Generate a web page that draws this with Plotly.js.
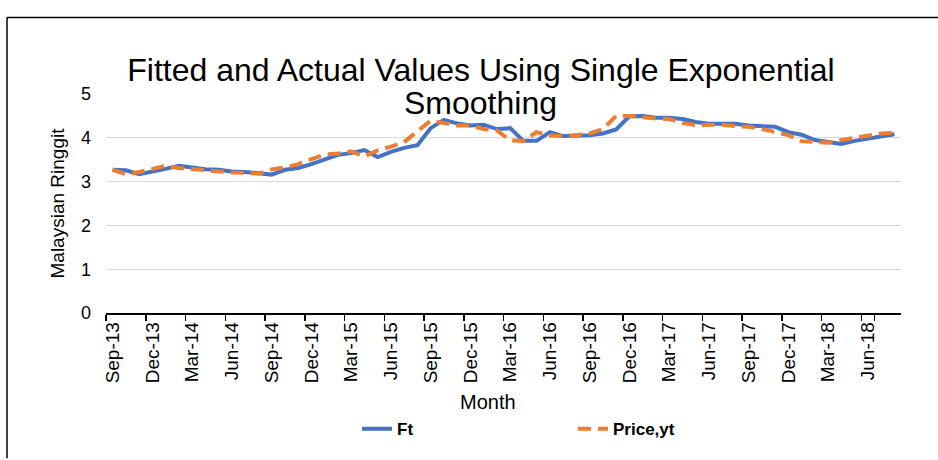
<!DOCTYPE html>
<html>
<head>
<meta charset="utf-8">
<script src="https://cdn.plot.ly/plotly-3.0.1.min.js"></script>
<style>html,body{margin:0;padding:0;background:#fff;}#chart{width:938px;height:460px;}</style>
</head>
<body>
<div id="chart"></div>
<script>
const months = ["Sep-13","Oct-13","Nov-13","Dec-13","Jan-14","Feb-14","Mar-14","Apr-14","May-14","Jun-14","Jul-14","Aug-14",
"Sep-14","Oct-14","Nov-14","Dec-14","Jan-15","Feb-15","Mar-15","Apr-15","May-15","Jun-15","Jul-15","Aug-15",
"Sep-15","Oct-15","Nov-15","Dec-15","Jan-16","Feb-16","Mar-16","Apr-16","May-16","Jun-16","Jul-16","Aug-16",
"Sep-16","Oct-16","Nov-16","Dec-16","Jan-17","Feb-17","Mar-17","Apr-17","May-17","Jun-17","Jul-17","Aug-17",
"Sep-17","Oct-17","Nov-17","Dec-17","Jan-18","Feb-18","Mar-18","Apr-18","May-18","Jun-18","Jul-18","Aug-18"];

const tickLabels = ["Sep-13","Dec-13","Mar-14","Jun-14","Sep-14","Dec-14","Mar-15","Jun-15","Sep-15","Dec-15",
"Mar-16","Jun-16","Sep-16","Dec-16","Mar-17","Jun-17","Sep-17","Dec-17","Mar-18","Jun-18"];

const ft = [3.27,3.26,3.17,3.22,3.29,3.36,3.31,3.28,3.27,3.23,3.22,3.20,
3.16,3.27,3.31,3.40,3.50,3.61,3.65,3.72,3.56,3.68,3.77,3.83,
4.22,4.41,4.33,4.28,4.30,4.20,4.22,3.93,3.93,4.13,4.04,4.05,
4.06,4.10,4.19,4.49,4.50,4.46,4.46,4.43,4.36,4.32,4.31,4.32,
4.28,4.27,4.25,4.13,4.07,3.95,3.90,3.86,3.93,3.98,4.04,4.08];

const price = [3.27,3.17,3.22,3.29,3.36,3.31,3.28,3.27,3.22,3.21,3.20,3.18,
3.28,3.32,3.40,3.50,3.62,3.64,3.69,3.58,3.71,3.80,3.90,4.15,
4.39,4.34,4.28,4.28,4.20,4.17,3.94,3.93,4.13,4.05,4.04,4.06,
4.10,4.20,4.50,4.50,4.46,4.44,4.43,4.34,4.29,4.30,4.30,4.27,
4.25,4.20,4.12,4.06,3.92,3.90,3.89,3.95,4.00,4.06,4.10,4.11];

const titleLine1 = "Fitted and Actual Values Using Single Exponential";
const titleLine2 = "Smoothing";
const xTitle = "Month";
const yTitle = "Malaysian Ringgit";

const font = "Liberation Sans, Arial, sans-serif";

const traces = [
  {x: months, y: ft, type: "scatter", mode: "lines", name: "Ft",
   line: {color: "#4472C4", width: 4}},
  {x: months, y: price, type: "scatter", mode: "lines", name: "Price,yt",
   line: {color: "#ED7D31", width: 4, dash: "13px,7px"}}
];

const layout = {
  width: 938, height: 460,
  margin: {l: 106, r: 37, t: 94, b: 140},
  paper_bgcolor: "#ffffff", plot_bgcolor: "#ffffff",
  font: {family: font, color: "#000000", size: 19},
  title: {text: titleLine1,
    font: {family: font, size: 32, color: "#000000"},
    xref: "paper", x: (481-106)/795, xanchor: "center",
    yref: "container", y: 1 - 70/460, yanchor: "middle"},
  xaxis: {type: "category", range: [-0.5, 59.5], automargin: false,
    tickmode: "array", tickvals: tickLabels, ticktext: tickLabels,
    tickson: "boundaries", ticks: "outside", ticklen: 6, tickwidth: 1.5, tickcolor: "#000",
    tickangle: -90, tickfont: {family: font, size: 19, color: "#000"},
    showline: true, linecolor: "#000", linewidth: 1.5,
    showgrid: false, zeroline: false, fixedrange: true},
  yaxis: {range: [0, 5], dtick: 1, tick0: 0, automargin: false,
    showgrid: true, gridcolor: "#d9d9d9", gridwidth: 1.3,
    zeroline: false, showline: false, ticks: "",
    ticklabelstandoff: 14,
    tickfont: {family: font, size: 18, color: "#000"},
    fixedrange: true},
  showlegend: true,
  legend: {orientation: "h", x: (357-106)/795, xanchor: "left", y: (320-440)/226, yanchor: "middle",
    entrywidth: 171, entrywidthmode: "pixels",
    font: {family: font, size: 17, color: "#000", weight: "bold"},
    bgcolor: "rgba(0,0,0,0)"},
  annotations: [
    {text: titleLine2, xref: "paper", yref: "paper", x: (480-106)/795, y: (320-103)/226,
     xanchor: "center", yanchor: "middle", showarrow: false,
     font: {family: font, size: 32, color: "#000"}},
    {text: xTitle, xref: "paper", yref: "paper", x: (488-106)/795, y: (320-412)/226,
     xanchor: "center", yanchor: "middle", showarrow: false,
     font: {family: font, size: 20, color: "#000"}},
    {text: yTitle, xref: "paper", yref: "paper", x: (57-106)/795, y: (320-207)/226,
     xanchor: "center", yanchor: "middle", textangle: -90, showarrow: false,
     font: {family: font, size: 19, color: "#000"}}
  ],
  shapes: [
    {type: "line", xref: "paper", yref: "paper", x0: (7-106)/795, x1: (7-106)/795, y0: (320-15)/226, y1: (320-470)/226,
     line: {color: "#000", width: 1.5}},
    {type: "line", xref: "paper", yref: "paper", x0: (7-106)/795, x1: (945-106)/795, y0: (320-15)/226, y1: (320-15)/226,
     line: {color: "#000", width: 1.5}}
  ]
};

Plotly.newPlot("chart", traces, layout, {displayModeBar: false, staticPlot: true});
</script>
</body>
</html>
